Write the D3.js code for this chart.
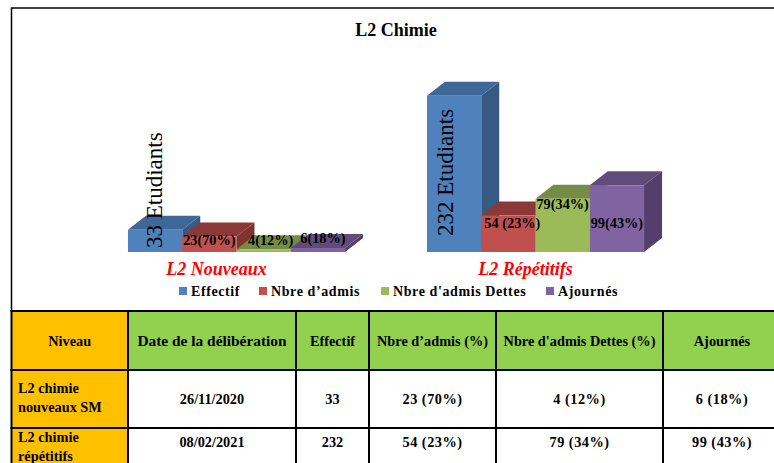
<!DOCTYPE html>
<meta charset='utf-8'>
<style>
	html, body { margin: 0; padding: 0; background: #fff; overflow: hidden; }
	svg { display: block; font-family: 'Liberation Serif', serif; }
</style>
<body>
<div id='container'></div>
<script src='https://d3js.org/d3.v7.min.js'></script>
<script>
	// chart data
	const categories = [ 'L2 Nouveaux', 'L2 Répétitifs' ];
	const seriesNames = [ 'Effectif', "Nbre d’admis", "Nbre d'admis Dettes", 'Ajournés' ];
	const effectif = [ 33, 232 ];
	const admis = [ 23, 54 ];
	const dettes = [ 4, 79 ];
	const ajournes = [ 6, 99 ];
	const effectifLabels = [ '33 Etudiants', '232 Etudiants' ];
	const admisLabels = [ '23(70%)', '54 (23%)' ];
	const dettesLabels = [ '4(12%)', '79(34%)' ];
	const ajournesLabels = [ '6(18%)', '99(43%)' ];

	// table data
	const tableHeader = [ 'Niveau', 'Date de la délibération', 'Effectif', 'Nbre d’admis (%)', "Nbre d'admis Dettes (%)", 'Ajournés' ];
	const tableRow1 = [ [ 'L2 chimie', 'nouveaux SM' ], '26/11/2020', '33', '23 (70%)', '4 (12%)', '6 (18%)' ];
	const tableRow2 = [ [ 'L2 chimie', 'répétitifs' ], '08/02/2021', '232', '54 (23%)', '79 (34%)', '99 (43%)' ];

	const width = 774, height = 463;
	const colors = [
		{ front: '#4f81bd', top: '#3f6797', side: '#375a84' },
		{ front: '#c0504d', top: '#8c3836', side: '#7e3330' },
		{ front: '#9bbb59', top: '#748c43', side: '#667b3a' },
		{ front: '#8064a2', top: '#604b7a', side: '#543f6c' },
	];
	const depthX = 18, depthY = 14;

	let values = [ effectif, admis, dettes, ajournes ];
	let labels = [ effectifLabels, admisLabels, dettesLabels, ajournesLabels ];

	let xGroup = d3.scaleBand()
		.domain( categories )
		.range( [ 87, 685 ] )
		.paddingInner( 0.274 )
		.paddingOuter( 0.137 );
	let xSeries = d3.scaleBand()
		.domain( seriesNames )
		.range( [ 0, xGroup.bandwidth() ] );
	let y = d3.scaleLinear()
		.domain( [ 0, 232 ] )
		.range( [ 252, 95.7 ] );

	let svg = d3.select( '#container' )
		.append( 'svg' )
		.attr( 'width', width )
		.attr( 'height', height )
		.attr( 'viewBox', `0 0 ${width} ${height}` );

	svg.append( 'rect' )
		.attr( 'width', width )
		.attr( 'height', height )
		.attr( 'fill', '#fff' );

	// frame of the chart
	svg.append( 'path' )
		.attr( 'd', `M${width},8 H11.5 V311` )
		.attr( 'fill', 'none' )
		.attr( 'stroke', '#000' )
		.attr( 'stroke-width', 1.5 );

	svg.append( 'text' )
		.attr( 'x', 396 )
		.attr( 'y', 36 )
		.attr( 'text-anchor', 'middle' )
		.style( 'font-size', '18px' )
		.style( 'font-weight', 'bold' )
		.text( 'L2 Chimie' );

	// 3D bars, left to right so that each bar covers the side of the previous one
	let bars = [];
	categories.forEach( ( c, ci ) => {
		seriesNames.forEach( ( s, si ) => {
			bars.push( { c, s, si, value: values[si][ci], label: labels[si][ci] } );
		} );
	} );

	let barG = svg.append( 'g' ).selectAll( 'g' )
		.data( bars )
		.enter().append( 'g' )
			.attr( 'class', 'bar' );

	const x0 = d => xGroup( d.c ) + xSeries( d.s );
	const x1 = d => x0( d ) + xSeries.bandwidth();

	barG.append( 'path' )
		.attr( 'fill', d => colors[d.si].side )
		.attr( 'd', d => `M${x1( d )},${y( 0 )} l${depthX},${-depthY} V${y( d.value ) - depthY} L${x1( d )},${y( d.value )} Z` );
	barG.append( 'path' )
		.attr( 'fill', d => colors[d.si].top )
		.attr( 'd', d => `M${x0( d )},${y( d.value )} l${depthX},${-depthY} H${x1( d ) + depthX} L${x1( d )},${y( d.value )} Z` );
	barG.append( 'rect' )
		.attr( 'x', x0 )
		.attr( 'y', d => y( d.value ) )
		.attr( 'width', xSeries.bandwidth() )
		.attr( 'height', d => y( 0 ) - y( d.value ) )
		.attr( 'fill', d => colors[d.si].front );

	// Bar labels, nudged by hand like the source; own layer so no bar covers them
	const labelOffset = {
		'23(70%)': [ 0, 241 ], '4(12%)': [ 7, 241 ], '6(18%)': [ 5, 239 ],
		'54 (23%)': [ 4, 224 ], '79(34%)': [ 0, 205 ], '99(43%)': [ 0, 224 ],
	};
	svg.append( 'g' ).selectAll( 'text' )
		.data( bars.filter( d => d.si > 0 ) )
		.enter().append( 'text' )
			.attr( 'x', d => ( x0( d ) + x1( d ) ) / 2 + labelOffset[d.label][0] )
			.attr( 'y', d => labelOffset[d.label][1] + 4 )
			.attr( 'text-anchor', 'middle' )
			.style( 'font-size', '14.3px' )
			.style( 'font-weight', 'bold' )
			.text( d => d.label );

	svg.append( 'g' ).selectAll( 'text' )
		.data( bars.filter( d => d.si === 0 ) )
		.enter().append( 'text' )
			.attr( 'transform', d => d.value < 100 ? 'translate(162,248) rotate(-90)' : 'translate(453,236) rotate(-90)' )
			.style( 'font-size', '23px' )
			.text( d => d.label );

	// Category labels
	const categoryShift = [ -20, -10 ];
	svg.append( 'g' ).selectAll( 'text' )
		.data( categories )
		.enter().append( 'text' )
			.attr( 'x', ( d, i ) => xGroup( d ) + xGroup.bandwidth() / 2 + categoryShift[i] )
			.attr( 'y', 275 )
			.attr( 'text-anchor', 'middle' )
			.attr( 'fill', '#ff0000' )
			.style( 'font-size', '18px' )
			.style( 'font-weight', 'bold' )
			.style( 'font-style', 'italic' )
			.text( d => d );

	// Legend
	const legendX = d3.scaleOrdinal().domain( seriesNames ).range( [ 179, 259, 381, 546 ] );
	let legend = svg.append( 'g' ).selectAll( 'g' )
		.data( seriesNames )
		.enter().append( 'g' )
			.attr( 'transform', d => `translate( ${legendX( d )}, 291 )` );
	legend.append( 'rect' )
		.attr( 'y', -4 )
		.attr( 'width', 8 )
		.attr( 'height', 8 )
		.attr( 'fill', ( d, i ) => colors[i].front );
	legend.append( 'text' )
		.attr( 'x', 12 )
		.attr( 'y', 5 )
		.style( 'font-size', '14px' )
		.style( 'font-weight', 'bold' )
		.style( 'letter-spacing', '0.6px' )
		.text( d => d );

	// Table, the last column runs past the right edge of the picture
	const colEdges = [ 11.5, 128, 296, 369, 496, 663, 781 ];
	const rowEdges = [ 311, 370, 428, 486 ];
	const rows = [ tableHeader, tableRow1, tableRow2 ];

	let table = svg.append( 'g' );
	rows.forEach( ( row, r ) => {
		row.forEach( ( cell, c ) => {
			let fill = c === 0 ? '#ffc000' : ( r === 0 ? '#92d050' : '#fff' );
			table.append( 'rect' )
				.attr( 'x', colEdges[c] )
				.attr( 'y', rowEdges[r] )
				.attr( 'width', colEdges[c + 1] - colEdges[c] )
				.attr( 'height', rowEdges[r + 1] - rowEdges[r] )
				.attr( 'fill', fill );

			let mid = ( rowEdges[r] + rowEdges[r + 1] ) / 2;
			if ( Array.isArray( cell ) ) {
				cell.forEach( ( line, l ) => {
					table.append( 'text' )
						.attr( 'x', 18 )
						.attr( 'y', r === 1 ? 393 + l * 19 : 442 + l * 19 )
						.style( 'font-size', '14.3px' )
						.style( 'font-weight', 'bold' )
						.text( line );
				} );
			} else {
				table.append( 'text' )
					.attr( 'x', ( colEdges[c] + colEdges[c + 1] ) / 2 )
					.attr( 'y', r === 2 ? 447 : mid + 5 )
					.attr( 'text-anchor', 'middle' )
					.style( 'font-size', r === 0 && c === 1 ? '15.4px' : '14.3px' )
					.style( 'font-weight', 'bold' )
					.style( 'letter-spacing', r > 0 && c >= 3 ? '0.5px' : null )
					.text( cell );
			}
		} );
	} );

	table.selectAll( '.hline' )
		.data( rowEdges.slice( 0, 3 ) )
		.enter().append( 'line' )
			.attr( 'x1', 10.5 ).attr( 'x2', width )
			.attr( 'y1', d => d ).attr( 'y2', d => d )
			.attr( 'stroke', '#000' )
			.attr( 'stroke-width', 2 );
	table.selectAll( '.vline' )
		.data( colEdges.slice( 0, 6 ) )
		.enter().append( 'line' )
			.attr( 'x1', d => d ).attr( 'x2', d => d )
			.attr( 'y1', 310 ).attr( 'y2', height )
			.attr( 'stroke', '#000' )
			.attr( 'stroke-width', 2 );
</script>
</body>
